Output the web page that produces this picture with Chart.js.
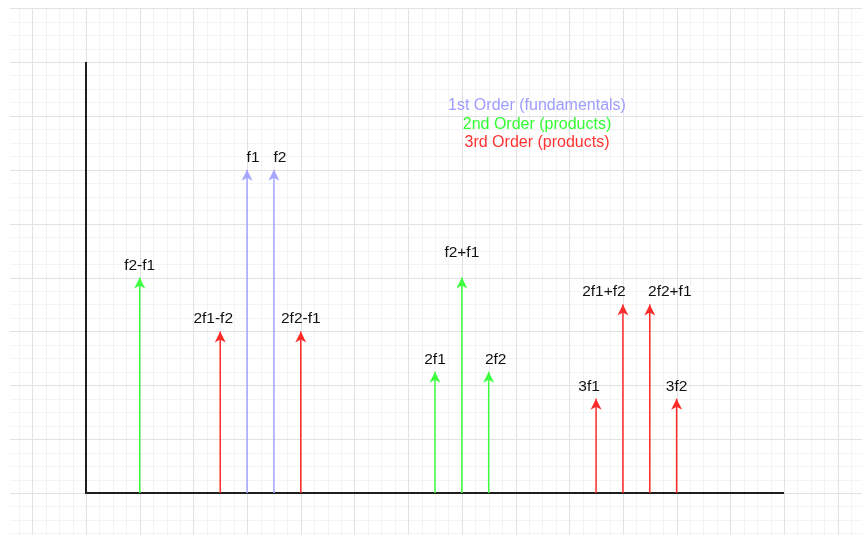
<!DOCTYPE html>
<html>
<head>
<meta charset="utf-8">
<script src="https://cdn.jsdelivr.net/npm/chart.js@4"></script>
<style>
  body { margin: 0; background: #fff; }
  #spectrum { display: block; }
</style>
</head>
<body>
<canvas id="spectrum" width="862" height="535"></canvas>
<script>
// intermod products, schematic units (1 unit = one small grid square)
const products = ['f2-f1', '2f1-f2', 'f1', 'f2', '2f2-f1', '2f1', 'f2+f1', '2f2', '3f1', '2f1+f2', '2f2+f1', '3f2'];
const freq = [4, 10, 12, 14, 16, 26, 28, 30, 38, 40, 42, 44];
const level = [16, 12, 24, 24, 12, 9, 16, 9, 7, 14, 14, 7];
const order = [2, 3, 1, 1, 3, 2, 2, 2, 3, 3, 3, 3];
const orderNames = ['1st Order (fundamentals)', '2nd Order (products)', '3rd Order (products)'];

const orderColors = { 1: '#a6a6ff', 2: '#3dff3d', 3: '#ff2b2b' };
const legendColors = ['#9d9dff', '#33ff33', '#ff3333'];

// small nudges so labels sit where the drawing had them
const labelNudge = [[0, 0], [-7, 0], [6, 0], [6, 0], [0, 0], [0, 0], [0, -13], [7, 0], [-7, 0], [-19, 0], [20, 0], [0, 0]];

function stemData(ord) {
    let pts = [];
    for (let i = 0; i < freq.length; i++) {
        if (order[i] !== ord) continue;
        pts.push({x: freq[i], y: 0});
        pts.push({x: freq[i], y: level[i]});
        pts.push({x: freq[i], y: null});
    }
    return pts;
}

const paperGrid = {
    id: 'paperGrid',
    beforeDraw(chart) {
        const ctx = chart.ctx;
        const xs = chart.scales.x, ys = chart.scales.y;
        const left = 10, top = 8, right = chart.width, bottom = chart.height;
        ctx.save();
        ctx.fillStyle = '#fff';
        ctx.fillRect(0, 0, chart.width, chart.height);
        ctx.lineWidth = 1;
        [false, true].forEach(major => {
            ctx.strokeStyle = major ? '#e2e2e2' : '#f3f3f3';
            ctx.beginPath();
            for (let k = -8; k <= 60; k++) {
                if ((k % 4 === 0) !== major) continue;
                const px = Math.round(xs.getPixelForValue(k)) + 0.5;
                if (px >= left && px <= right) {
                    ctx.moveTo(px, top);
                    ctx.lineTo(px, bottom);
                }
            }
            for (let k = -8; k <= 40; k++) {
                if ((k % 4 === 0) !== major) continue;
                const py = Math.round(ys.getPixelForValue(k)) + 0.5;
                if (py >= top && py <= bottom) {
                    ctx.moveTo(left, py);
                    ctx.lineTo(right, py);
                }
            }
            ctx.stroke();
        });
        ctx.restore();
    },
    beforeDatasetsDraw(chart) {
        // axes
        const ctx = chart.ctx, a = chart.chartArea;
        ctx.save();
        ctx.strokeStyle = '#1e1e1e';
        ctx.lineWidth = 2;
        ctx.beginPath();
        ctx.moveTo(a.left, a.top);
        ctx.lineTo(a.left, a.bottom);
        ctx.lineTo(a.right, a.bottom);
        ctx.stroke();
        ctx.restore();
    },
    afterDatasetsDraw(chart) {
        const ctx = chart.ctx;
        const xs = chart.scales.x, ys = chart.scales.y;
        ctx.save();
        ctx.font = '15.5px "Liberation Sans", Arial, sans-serif';
        ctx.textAlign = 'center';
        ctx.textBaseline = 'alphabetic';
        for (let i = 0; i < freq.length; i++) {
            const x = xs.getPixelForValue(freq[i]);
            const y = ys.getPixelForValue(level[i]);
            // classic arrow head
            ctx.fillStyle = orderColors[order[i]];
            ctx.beginPath();
            ctx.moveTo(x, y);
            ctx.lineTo(x + 5.5, y + 11);
            ctx.lineTo(x, y + 8);
            ctx.lineTo(x - 5.5, y + 11);
            ctx.closePath();
            ctx.fill();
            ctx.fillStyle = '#111';
            ctx.fillText(products[i], x + labelNudge[i][0], y - 8 + labelNudge[i][1]);
        }
        // key text
        ctx.font = '16px "Liberation Sans", Arial, sans-serif';
        orderNames.forEach((t, j) => {
            ctx.fillStyle = legendColors[j];
            ctx.fillText(t, 537, 110 + j * 18.7);
        });
        ctx.restore();
    }
};

new Chart(document.getElementById('spectrum'), {
    type: 'line',
    data: {
        datasets: [1, 2, 3].map(o => ({
            label: orderNames[o - 1],
            data: stemData(o),
            borderColor: orderColors[o],
            borderWidth: 1.5,
            pointRadius: 0,
            spanGaps: false,
            clip: false
        }))
    },
    options: {
        responsive: false,
        animation: false,
        layout: { padding: { left: 86, right: 78, top: 62, bottom: 42 } },
        scales: {
            x: { type: 'linear', min: 0, max: 52, display: false },
            y: { min: 0, max: 32, display: false }
        },
        plugins: { legend: { display: false }, tooltip: { enabled: false } }
    },
    plugins: [paperGrid]
});
</script>
</body>
</html>
